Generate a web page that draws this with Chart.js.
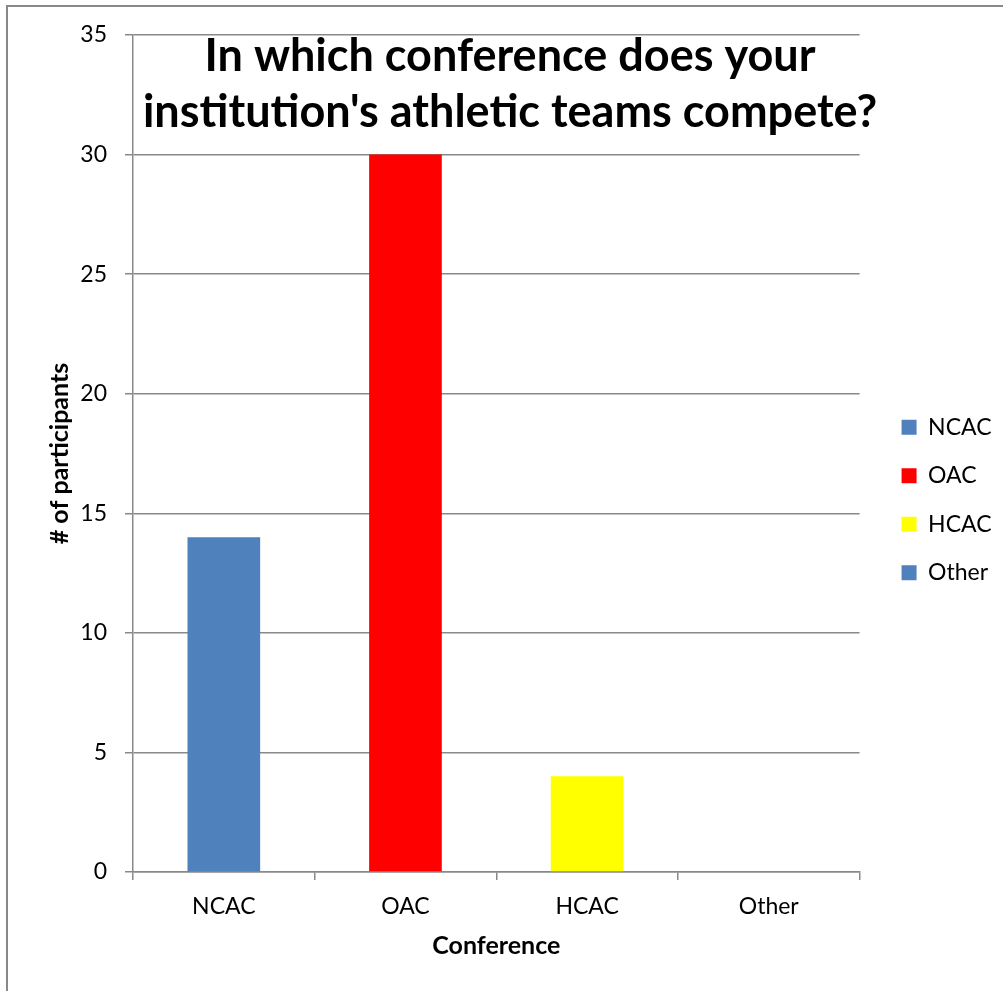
<!DOCTYPE html>
<html>
<head>
<meta charset="utf-8">
<script src="https://cdn.jsdelivr.net/npm/chart.js@4.4.1/dist/chart.umd.min.js"></script>
<style>
    html, body { margin: 0; padding: 0; background: #fff; overflow: hidden; }
    #frame { position: absolute; left: 6px; top: 5px; width: 2000px; height: 2000px; border-left: 2px solid #898989; border-top: 2px solid #898989; }
    #wrap { position: absolute; left: 0; top: 0; width: 1003px; height: 991px; }
</style>
</head>
<body>
<div id="frame"></div>
<div id="wrap"><canvas id="confChart"></canvas></div>
<script>
const categories = ['NCAC', 'OAC', 'HCAC', 'Other'];
const participants = [14, 30, 4, 0];
const barColors = ['#4F81BD', '#FF0000', '#FFFF00', '#4F81BD'];
const titleLines = ['In which conference does your', "institution's athletic teams compete?"];

const axisGray = '#898989';
const fontName = 'Lato';
const labelSize = 23;

// title sits on top of the plot area, like the Excel original
const overlayTitle = {
    id: 'overlayTitle',
    afterDraw(chart) {
        const ctx = chart.ctx;
        ctx.save();
        ctx.font = 'bold 45px ' + fontName;
        ctx.fillStyle = '#000';
        ctx.textAlign = 'center';
        ctx.textBaseline = 'alphabetic';
        titleLines.forEach((t, i) => ctx.fillText(t, 510, 71 + i * 56));
        ctx.restore();
    }
};

const ctx = document.getElementById('confChart').getContext('2d');
new Chart(ctx, {
    type: 'bar',
    data: {
        labels: categories,
        datasets: [{
            label: '# of participants',
            data: participants,
            backgroundColor: barColors,
            borderWidth: 0,
            barPercentage: 0.4,
            categoryPercentage: 1.0
        }]
    },
    options: {
        responsive: true,
        maintainAspectRatio: false,
        animation: false,
        layout: { padding: { top: 35, bottom: 26, left: 0, right: 1.5 } },
        plugins: {
            tooltip: { enabled: false },
            legend: {
                position: 'right',
                labels: {
                    color: '#000',
                    font: { family: fontName, size: labelSize },
                    boxWidth: 15,
                    boxHeight: 15,
                    padding: 25.5,
                    generateLabels: () => categories.map((c, i) => ({
                        text: c,
                        fillStyle: barColors[i],
                        strokeStyle: barColors[i],
                        lineWidth: 0,
                        index: i
                    }))
                }
            }
        },
        scales: {
            x: {
                afterFit: s => { s.height = 93; },
                grid: { display: true, drawOnChartArea: false, drawTicks: true, tickLength: 8, color: axisGray, lineWidth: 1.5, offset: true },
                border: { color: axisGray, width: 1.5 },
                ticks: { color: '#000', font: { family: fontName, size: labelSize }, padding: 12.5 },
                title: { display: true, text: 'Conference', color: '#000', font: { family: fontName, size: 25, weight: 'bold' }, padding: { top: 4, bottom: 4 } }
            },
            y: {
                min: 0,
                max: 35,
                afterFit: s => { s.width = 133; },
                grid: { color: axisGray, lineWidth: 1.5, tickLength: 8 },
                border: { color: axisGray, width: 1.5 },
                ticks: { stepSize: 5, color: '#000', font: { family: fontName, size: labelSize }, padding: 18 },
                title: { display: true, text: '# of participants', color: '#000', font: { family: fontName, size: 25, weight: 'bold' }, padding: { top: 45, bottom: 0 } }
            },
            // empty spacer between plot and legend
            gap: {
                type: 'linear',
                position: 'right',
                afterFit: s => { s.width = 16.5; },
                grid: { display: false },
                border: { display: false },
                ticks: { display: false }
            }
        }
    },
    plugins: [overlayTitle]
});
</script>
</body>
</html>
